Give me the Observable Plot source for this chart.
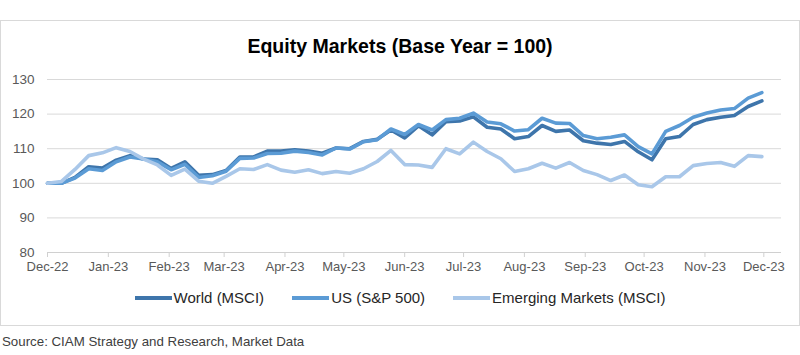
<!DOCTYPE html>
<html>
<head>
<meta charset="utf-8">
<script src="https://cdn.jsdelivr.net/npm/d3@7"></script>
<script src="https://cdn.jsdelivr.net/npm/@observablehq/plot@0.6"></script>
<style>
  html, body { margin: 0; padding: 0; background: #fff; }
  body { width: 800px; height: 355px; position: relative; overflow: hidden; font-family: "Liberation Sans", Arial, sans-serif; }
  #frame { position: absolute; left: 0; top: 20px; width: 798px; height: 304px; border: 1px solid #d9d9d9; }
  #title { position: absolute; left: 0; top: 34px; width: 800px; text-align: center; font-size: 21px; font-weight: bold; color: #000; transform: scaleX(0.93); transform-origin: 400px 0; }
  #chart { position: absolute; left: 0; top: 65px; }
  #legend { position: absolute; left: 0; top: 289px; width: 800px; display: flex; justify-content: center; align-items: center; font-size: 15px; color: #262626; }
  .item { display: flex; align-items: center; margin: 0 14px; }
  .sw { width: 37px; height: 4px; margin-right: 2px; }
  #source { position: absolute; left: 2px; top: 334px; font-size: 13.3px; color: #404040; }
</style>
</head>
<body>
<div id="frame"></div>
<div id="title">Equity Markets (Base Year = 100)</div>
<div id="chart"></div>
<div id="legend"></div>
<div id="source">Source: CIAM Strategy and Research, Market Data</div>
<script>
const dates = ["2022-12-01","2022-12-08","2022-12-15","2022-12-22","2022-12-29",
  "2023-01-05","2023-01-12","2023-01-19","2023-01-26",
  "2023-02-02","2023-02-09","2023-02-16","2023-02-23",
  "2023-03-02","2023-03-09","2023-03-16","2023-03-23","2023-03-30",
  "2023-04-06","2023-04-13","2023-04-20","2023-04-27",
  "2023-05-04","2023-05-11","2023-05-18","2023-05-25",
  "2023-06-01","2023-06-08","2023-06-15","2023-06-22","2023-06-29",
  "2023-07-06","2023-07-13","2023-07-20","2023-07-27",
  "2023-08-03","2023-08-10","2023-08-17","2023-08-24","2023-08-31",
  "2023-09-07","2023-09-14","2023-09-21","2023-09-28",
  "2023-10-05","2023-10-12","2023-10-19","2023-10-26",
  "2023-11-02","2023-11-09","2023-11-16","2023-11-23","2023-11-30"];

const world = [100,100,101.7,104.8,104.4,106.7,108,107,106.8,104.3,106.2,102.3,102.5,103.7,107.6,107.6,109.3,
  109.3,109.7,109.3,108.7,110.2,110,112.1,112.7,115.4,113.1,116.6,114,117.8,118,119.2,116.2,115.7,112.9,
  113.5,116.7,115,115.4,112.3,111.6,111.2,112.1,109.1,106.8,112.9,113.5,117,118.4,119.1,119.6,122.2,123.8];
const us = [100,100,101.5,104.2,103.7,106.2,107.6,107,106.2,103.9,105.5,101.7,102.2,103.5,107.2,107.3,108.6,
  108.7,109.3,108.9,108.2,110.2,109.9,112,112.6,115.7,114.1,117,115.4,118.4,118.8,120.3,117.7,117.2,115.1,
  115.5,118.8,117.4,117.3,113.8,112.9,113.3,114,110.6,108.5,115,116.7,119.1,120.3,121.2,121.6,124.6,126.2];
const em = [100,100.5,104,108,108.8,110.3,109.2,107,105.3,102.3,104.1,100.6,100,102,104.2,104,105.4,
  103.8,103.2,103.9,102.8,103.4,102.9,104.2,106.3,109.5,105.4,105.3,104.6,110,108.5,111.9,109.2,107.1,103.4,
  104.2,105.8,104.4,106,103.7,102.5,100.8,102.4,99.6,99,101.9,101.9,105.1,105.7,106,104.9,108,107.7];

const seriesNames = ["World (MSCI)", "US (S&P 500)", "Emerging Markets (MSCI)"];
const seriesColors = ["#3e75ab", "#5b9bd5", "#a9c7e9"];
const seriesValues = [world, us, em];

const monthTicks = ["2022-12-01","2023-01-01","2023-02-01","2023-03-01","2023-04-01","2023-05-01","2023-06-01",
  "2023-07-01","2023-08-01","2023-09-01","2023-10-01","2023-11-01","2023-12-01"];
const yTicks = [80, 90, 100, 110, 120, 130];

const parse = d3.utcParse("%Y-%m-%d");
const data = [];
seriesNames.forEach((name, k) => {
  seriesValues[k].forEach((v, i) => data.push({series: name, date: parse(dates[i]), value: v}));
});

const chart = Plot.plot({
  width: 800,
  height: 215,
  marginLeft: 47,
  marginRight: 19,
  marginTop: 14,
  marginBottom: 28,
  style: {fontFamily: "Liberation Sans, Arial, sans-serif", fontSize: "12px", color: "#595959", background: "transparent"},
  x: {type: "utc", domain: [parse("2022-12-01"), parse("2023-12-10")], label: null},
  y: {domain: [80, 130], label: null},
  color: {domain: seriesNames, range: seriesColors},
  marks: [
    Plot.gridY(yTicks.filter(d => d > 80), {stroke: "#d9d9d9", strokeOpacity: 1, strokeWidth: 1}),
    Plot.ruleY([80], {stroke: "#d0d0d0", strokeWidth: 1}),
    Plot.axisY(yTicks, {tickSize: 0, tickPadding: 13, fontSize: 13.5, fill: "#595959", label: null}),
    Plot.axisX(monthTicks.map(parse), {tickSize: 5, tickPadding: 4, stroke: "#d0d0d0", fill: "#595959", fontSize: 13, tickFormat: d3.utcFormat("%b-%y"), label: null}),
    Plot.line(data, {x: "date", y: "value", z: "series", stroke: "series", strokeWidth: 3.6, strokeLinejoin: "round", strokeLinecap: "round"})
  ]
});
document.getElementById("chart").appendChild(chart);

const legend = document.getElementById("legend");
seriesNames.forEach((name, k) => {
  const item = document.createElement("div");
  item.className = "item";
  const sw = document.createElement("div");
  sw.className = "sw";
  sw.style.background = seriesColors[k];
  const label = document.createElement("span");
  label.textContent = name;
  item.appendChild(sw);
  item.appendChild(label);
  legend.appendChild(item);
});
</script>
</body>
</html>
